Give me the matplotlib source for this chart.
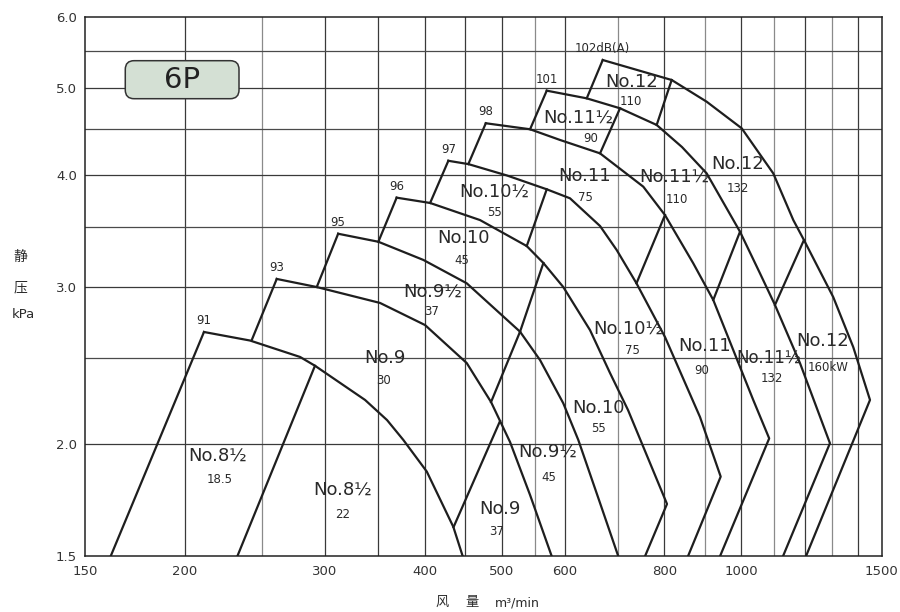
import matplotlib
matplotlib.use("Agg")
import matplotlib.pyplot as plt
from matplotlib.patches import FancyBboxPatch
from matplotlib.ticker import FixedLocator, NullLocator

# ---------------- data (Q: m3/min, P: kPa) ----------------
# fan curves at 6P speed: surge point -> ... -> max-flow limit (-> bottom)
c85_q = [211.4, 241.5, 279.1, 291.4, 336.8, 358.9, 376.2, 402.6, 434.7, 446.7]
c85_p = [2.670, 2.612, 2.504, 2.448, 2.242, 2.129, 2.023, 1.865, 1.618, 1.50]
c90_q = [260.9, 292.9, 351.7, 400.6, 451.9, 484.8, 497.6, 512.2, 542.7, 577.8]
c90_p = [3.060, 2.997, 2.877, 2.718, 2.465, 2.230, 2.124, 2.012, 1.756, 1.50]
c95_q = [311.6, 350.0, 398.7, 451.9, 527.2, 558.6, 597.4, 623.9, 664.4, 700.4]
c95_p = [3.437, 3.367, 3.213, 3.026, 2.672, 2.484, 2.223, 2.023, 1.720, 1.50]
c100_q = [369.0, 406.5, 469.6, 537.5, 564.0, 597.4, 645.4, 683.8, 720.3, 806.3, 756.6]
c100_p = [3.771, 3.720, 3.560, 3.330, 3.188, 2.997, 2.683, 2.403, 2.185, 1.716, 1.50]
c105_q = [428.5, 454.0, 507.8, 569.5, 609.1, 664.4, 697.2, 738.2, 801.6, 887.0, 941.7, 856.7]
c105_p = [4.146, 4.111, 3.992, 3.853, 3.765, 3.506, 3.296, 3.026, 2.636, 2.146, 1.841, 1.50]
c110_q = [477.5, 542.7, 591.8, 664.4, 752.9, 801.6, 870.0, 921.7, 976.5, 1034.6, 1083.5, 939.8]
c110_p = [4.566, 4.496, 4.374, 4.226, 3.879, 3.606, 3.185, 2.899, 2.549, 2.242, 2.031, 1.50]
c115_q = [569.5, 639.3, 703.9, 782.6, 842.1, 904.3, 995.8, 1054.9, 1101.7, 1184.3, 1291.5, 1127.5]
c115_p = [4.965, 4.868, 4.745, 4.546, 4.295, 4.014, 3.455, 3.105, 2.862, 2.465, 2.006, 1.50]
c120_q = [669.6, 817.3, 904.3, 1000.7, 1096.3, 1161.7, 1198.0, 1303.8, 1381.6, 1450.1, 1205.0]
c120_p = [5.372, 5.103, 4.826, 4.507, 4.014, 3.560, 3.382, 2.921, 2.568, 2.242, 1.50]

curves_q = [c85_q, c90_q, c95_q, c100_q, c105_q, c110_q, c115_q, c120_q]
curves_p = [c85_p, c90_p, c95_p, c100_p, c105_p, c110_p, c115_p, c120_p]

# noise at surge point (peak of each curve)
db_labels = ["91", "93", "95", "96", "97", "98", "101", "102dB(A)"]

# surge lines: start point (on lower curve / bottom) up to each peak
surge_q0 = [161.4, 242.7, 292.9, 350.0, 406.5, 454.0, 542.7, 639.3]
surge_p0 = [1.50, 2.615, 2.997, 3.367, 3.720, 4.111, 4.496, 4.868]

# motor kW boundary lines
kw_q0 = [232.8, 435.0, 484.8, 527.2, 537.5, 738.2, 664.4, 921.7, 782.6, 1101.7]
kw_p0 = [1.50, 1.617, 2.230, 2.672, 3.330, 3.026, 4.226, 2.899, 4.546, 2.862]
kw_q1 = [291.4, 497.6, 527.2, 564.0, 569.5, 801.6, 703.9, 995.8, 817.3, 1198.0]
kw_p1 = [2.448, 2.124, 2.672, 3.188, 3.853, 3.606, 4.745, 3.455, 5.103, 3.382]

# axes ticks / grid
x_ticks = [150, 200, 300, 400, 500, 600, 800, 1000, 1500]
y_ticks = [1.5, 2.0, 3.0, 4.0, 5.0, 6.0]
x_grid_major = [200, 300, 350, 400, 450, 500, 600, 800, 1000, 1200, 1400]
x_grid_minor = [250, 550, 700, 900, 1100, 1300]
y_grid_major = [2.0, 3.0, 4.0, 5.0]
y_grid_minor = [2.5, 3.5, 4.5, 5.5]

# region labels: (fan size, motor kW)
region_names = ["No.8½", "No.8½", "No.9", "No.9", "No.9½", "No.9½", "No.10", "No.10",
                "No.10½", "No.10½", "No.11", "No.11", "No.11½", "No.11½", "No.11½",
                "No.12", "No.12", "No.12"]
region_kw = ["18.5", "22", "30", "37", "37", "45", "45", "55", "55", "75", "75", "90",
             "90", "110", "132", "110", "132", "160kW"]

# ---------------- layout ----------------
name_pos = [(0.1666, 0.1860), (0.3236, 0.1229), (0.3763, 0.3677), (0.5207, 0.0877),
            (0.4366, 0.4901), (0.5810, 0.1934), (0.4743, 0.5902), (0.6438, 0.2750),
            (0.5132, 0.6755), (0.6814, 0.4215), (0.6274, 0.7052), (0.7781, 0.3900),
            (0.6187, 0.8127), (0.7392, 0.7033), (0.8585, 0.3677), (0.6865, 0.8795),
            (0.8196, 0.7274), (0.9263, 0.3992)]
kw_pos = [(0.1691, 0.1433), (0.3236, 0.0784), (0.3751, 0.3251), (0.5170, 0.0451),
          (0.4353, 0.4530), (0.5822, 0.1470), (0.4730, 0.5494), (0.6450, 0.2379),
          (0.5132, 0.6384), (0.6865, 0.3825), (0.6274, 0.6644), (0.7744, 0.3436),
          (0.6350, 0.7756), (0.7430, 0.6625), (0.8623, 0.3306), (0.6852, 0.8424),
          (0.8196, 0.6829), (0.9326, 0.3492)]
name_size = [13, 13, 13, 13, 13, 13, 13, 13, 13, 13, 13, 13, 13, 13, 12, 13, 13, 13]

plt.rcParams['font.family'] = ['DejaVu Sans', 'Noto Sans CJK SC']
TXT = '#2a2a2a'
LINE = '#1e1e1e'

fig = plt.figure(figsize=(9, 6.12), dpi=100)
ax = fig.add_axes([0.09478, 0.09101, 0.88489, 0.88121])
ax.set_xscale('log')
ax.set_yscale('log')
ax.set_xlim(150, 1500)
ax.set_ylim(1.5, 6.0)

ax.xaxis.set_major_locator(FixedLocator(x_ticks))
ax.xaxis.set_minor_locator(NullLocator())
ax.yaxis.set_major_locator(FixedLocator(y_ticks))
ax.yaxis.set_minor_locator(NullLocator())
ax.set_xticklabels([str(v) for v in x_ticks])
ax.set_yticklabels([f"{v:.1f}" for v in y_ticks])
ax.tick_params(axis='both', length=0, labelsize=9.5, colors='#333333')
ax.tick_params(axis='x', pad=6.5)
ax.tick_params(axis='y', pad=6)
for s in ax.spines.values():
    s.set_color('#222222')
    s.set_linewidth(1.1)

for v in x_grid_major:
    ax.axvline(v, color='#3a3a3a', lw=0.9, zorder=1)
for v in x_grid_minor:
    ax.axvline(v, color='#8a8a8a', lw=0.9, zorder=1)
for v in y_grid_major:
    ax.axhline(v, color='#3a3a3a', lw=0.9, zorder=1)
for v in y_grid_minor:
    ax.axhline(v, color='#4a4a4a', lw=0.9, zorder=1)

lw = 1.6
for q, p in zip(curves_q, curves_p):
    ax.plot(q, p, color=LINE, lw=lw, zorder=3, solid_joinstyle='round')
for q0, p0, q, p in zip(surge_q0, surge_p0, curves_q, curves_p):
    ax.plot([q0, q[0]], [p0, p[0]], color=LINE, lw=lw, zorder=3)
for a, b, c, d in zip(kw_q0, kw_p0, kw_q1, kw_p1):
    ax.plot([a, c], [b, d], color=LINE, lw=lw, zorder=3)

for q, p, t in zip(curves_q, curves_p, db_labels):
    ax.annotate(t, (q[0], p[0]), xytext=(0, 3.5), textcoords='offset points',
                ha='center', va='bottom', fontsize=8.5, color=TXT, zorder=4)

for t, (x, y), fs in zip(region_names, name_pos, name_size):
    ax.text(x, y, t, transform=ax.transAxes, ha='center', va='center',
            fontsize=fs, color=TXT, zorder=4)
for t, (x, y) in zip(region_kw, kw_pos):
    ax.text(x, y, t, transform=ax.transAxes, ha='center', va='center',
            fontsize=8.5, color=TXT, zorder=4)

# 6P box
box = FancyBboxPatch((0.0502, 0.8485), 0.1428, 0.0705, transform=ax.transAxes,
                     boxstyle="round,pad=0,rounding_size=0.011", mutation_aspect=1.477,
                     facecolor='#d4e0d4', edgecolor='#333333', lw=1.1, zorder=5)
ax.add_patch(box)
ax.text(0.1216, 0.8838, "6P", transform=ax.transAxes, ha='center', va='center',
        fontsize=21, color='#222222', zorder=6)

# axis titles
fig.text(0.0228, 0.5809, "静", ha='center', va='center', fontsize=10, color=TXT)
fig.text(0.0233, 0.5302, "压", ha='center', va='center', fontsize=10, color=TXT)
fig.text(0.0256, 0.4869, "kPa", ha='center', va='center', fontsize=9.5, color=TXT)
fig.text(442.5 / 900, 1 - 602.5 / 612, "风", ha='center', va='center', fontsize=9.5, color=TXT)
fig.text(471.7 / 900, 1 - 602.5 / 612, "量", ha='center', va='center', fontsize=9.5, color=TXT)
fig.text(517.5 / 900, 1 - 602.5 / 612, "m³/min", ha='center', va='center', fontsize=9, color=TXT)

fig.savefig("out.png", dpi=100, facecolor='white')
